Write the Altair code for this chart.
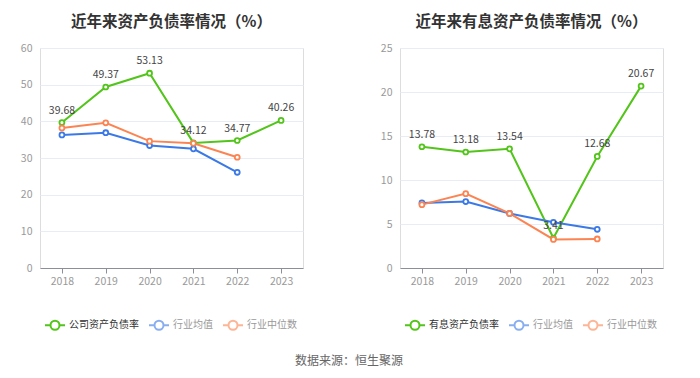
import altair as alt
import pandas as pd

years = ["2018", "2019", "2020", "2021", "2022", "2023"]

left_title = "近年来资产负债率情况（%）"
right_title = "近年来有息资产负债率情况（%）"
left_names = ["公司资产负债率", "行业均值", "行业中位数"]
right_names = ["有息资产负债率", "行业均值", "行业中位数"]

left_company = [39.68, 49.37, 53.13, 34.12, 34.77, 40.26]
left_avg = [36.3, 36.9, 33.4, 32.5, 26.1, None]
left_median = [38.2, 39.6, 34.6, 34.0, 30.2, None]

right_company = [13.78, 13.18, 13.54, 3.41, 12.68, 20.67]
right_avg = [7.4, 7.55, 6.2, 5.2, 4.4, None]
right_median = [7.2, 8.45, 6.2, 3.25, 3.3, None]

left_ticks = [0, 10, 20, 30, 40, 50, 60]
right_ticks = [0, 5, 10, 15, 20, 25]

source_text = "数据来源：恒生聚源"

colors = ["#52c41a", "#3b79e6", "#fc8452"]

SYMBOL = "M-1,0L-0.45,0M0.45,0L1,0M-0.45,0A0.45,0.45 0 1,0 0.45,0A0.45,0.45 0 1,0 -0.45,0Z"
FS = 10.5


def long_df(names, series):
    rows = []
    for n, vals in zip(names, series):
        for y, v in zip(years, vals):
            if v is not None:
                rows.append({"year": y, "series": n, "value": v})
    return pd.DataFrame(rows)


def panel(title, names, series, ticks):
    df = long_df(names, series)
    main = names[0]
    color = alt.Color(
        "series:N",
        scale=alt.Scale(domain=names, range=colors),
        legend=alt.Legend(
            title=None,
            orient="none",
            legendX=4,
            legendY=266,
            direction="horizontal",
            symbolType=SYMBOL,
            symbolSize=400,
            symbolStrokeWidth=2,
            symbolFillColor="white",
            symbolOpacity={"expr": f"datum.label == '{main}' ? 1 : 0.6"},
            labelColor={"expr": f"datum.label == '{main}' ? '#333333' : '#999999'"},
            labelFontSize=10,
            labelFont="Noto Sans CJK SC",
            columnPadding=6,
            labelOffset=3,
            padding=0,
        ),
    )
    x = alt.X(
        "year:O",
        title=None,
        scale=alt.Scale(domain=years),
        axis=alt.Axis(
            labelAngle=0,
            labelColor="#999999",
            labelFontSize=FS,
            domainColor="#8a8f99",
            tickColor="#8a8f99",
            tickSize=5,
            labelPadding=3,
            grid=False,
        ),
    )
    y = alt.Y(
        "value:Q",
        title=None,
        scale=alt.Scale(domain=[ticks[0], ticks[-1]], nice=False),
        axis=alt.Axis(
            values=ticks,
            labelColor="#999999",
            labelFontSize=FS,
            domain=False,
            ticks=False,
            labelPadding=8,
            gridColor="#e8ecf4",
            minExtent=31,
            maxExtent=31,
        ),
    )
    base = alt.Chart(df)
    line = base.mark_line(strokeWidth=2).encode(
        x=x, y=y, color=color, order=alt.Order("year:O")
    )
    pts = base.mark_point(filled=False, fill="white", fillOpacity=1, size=24, strokeWidth=1.8, opacity=1).encode(
        x=x, y=y, color=alt.Color("series:N", scale=alt.Scale(domain=names, range=colors), legend=None)
    )
    labels = base.transform_filter(alt.datum.series == main).mark_text(
        dy=-12, fontSize=FS, color="#444444"
    ).encode(x=x, y=y, text=alt.Text("value:Q", format=".2f"))
    return alt.layer(line, pts, labels).properties(
        width=263,
        height=220,
        title=alt.TitleParams(
            title, fontSize=15.5, fontWeight="bold", color="#333333", anchor="middle", offset=13
        ),
    )


left = panel(left_title, left_names, [left_company, left_avg, left_median], left_ticks)
right = panel(right_title, right_names, [right_company, right_avg, right_median], right_ticks)

chart = (
    alt.hconcat(left, right, spacing=64)
    .resolve_scale(color="independent", y="independent")
    .properties(
        padding={"left": 0, "top": 6, "right": 0, "bottom": 0},
        title=alt.TitleParams(
            source_text, orient="bottom", anchor="middle", fontSize=12, fontWeight="normal",
            color="#666666", offset=21, dx=13
        ),
    )
    .configure_view(stroke=None)
    .configure(font="Noto Sans CJK SC")
)

chart.save("out.html", embed_options={"renderer": "svg", "actions": False})
